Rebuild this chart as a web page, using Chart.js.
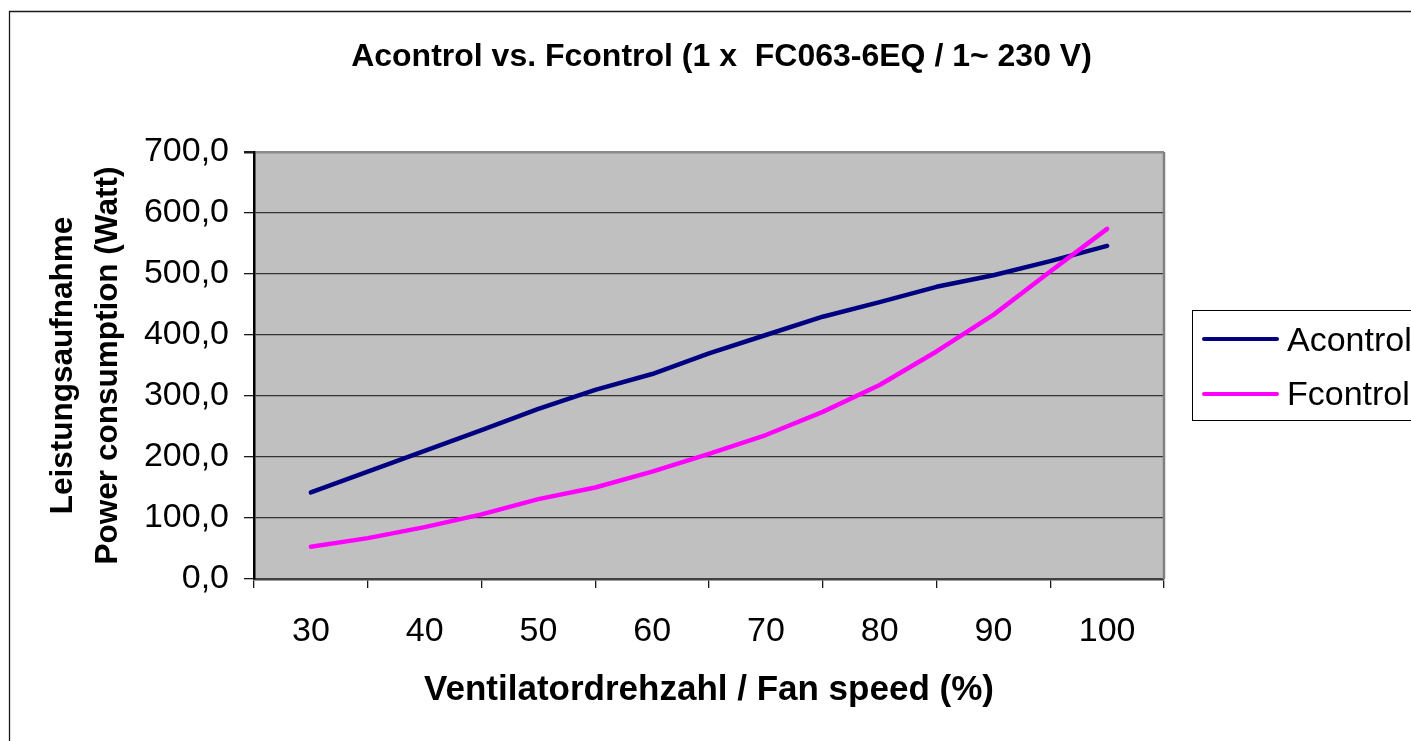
<!DOCTYPE html>
<html><head><meta charset="utf-8">
<script src="https://cdn.jsdelivr.net/npm/chart.js@4/dist/chart.umd.min.js"></script>
<style>html,body{margin:0;padding:0;background:#fff;overflow:hidden}#wrap{width:1411px;height:741px;position:relative}canvas{display:block}</style>
</head><body><div id="wrap"><canvas id="c" width="1411" height="741"></canvas></div>
<script>
// ---- data ----
const fanSpeed = [30, 35, 40, 45, 50, 55, 60, 65, 70, 75, 80, 85, 90, 95, 100];
const acontrol = [142, 176, 210, 244, 279, 310, 336, 370, 400, 430, 454, 479, 498, 521, 546];
const fcontrol = [53, 67, 85, 106, 131, 150, 176, 205, 236, 274, 318, 373, 433, 504, 574];
const seriesNames = ['Acontrol', 'Fcontrol'];
const seriesColors = ['#000080', '#FF00FF'];
const titleText = 'Acontrol vs. Fcontrol (1 x  FC063-6EQ / 1~ 230 V)';
const xTitle = 'Ventilatordrehzahl / Fan speed (%)';
const yTitle = ['Leistungsaufnahme', 'Power consumption (Watt)'];

const FONT = "'Liberation Sans', Arial, sans-serif";

const pagePlugin = {
  id: 'page',
  beforeDraw(chart) {
    const {ctx, chartArea: a} = chart;
    ctx.save();
    ctx.fillStyle = '#fff';
    ctx.fillRect(0, 0, chart.width, chart.height);
    ctx.fillStyle = '#C0C0C0';
    ctx.fillRect(a.left, a.top, a.right - a.left, a.bottom - a.top);
    ctx.strokeStyle = '#1a1a1a';
    ctx.lineWidth = 1.3;
    ctx.beginPath();
    ctx.moveTo(9.5, 745);
    ctx.lineTo(9.5, 11.5);
    ctx.lineTo(1415, 11.5);
    ctx.stroke();
    ctx.restore();
  },
  beforeDatasetsDraw(chart) {
    const {ctx, chartArea: a} = chart;
    ctx.save();
    ctx.strokeStyle = '#808080';
    ctx.lineWidth = 2.5;
    ctx.beginPath();
    ctx.moveTo(a.right, a.top);
    ctx.lineTo(a.right, a.bottom);
    ctx.stroke();
    ctx.restore();
  },
  afterDraw(chart) {
    const {ctx} = chart;
    ctx.save();
    ctx.strokeStyle = '#000';
    ctx.lineWidth = 1;
    ctx.strokeRect(1192.5, 310.5, 400, 110);
    chart.data.datasets.forEach((ds) => {
      const idx = seriesNames.indexOf(ds.label);
      const y = 339 + idx * 55;
      ctx.strokeStyle = ds.borderColor;
      ctx.lineWidth = 4;
      ctx.lineCap = 'round';
      ctx.beginPath();
      ctx.moveTo(1204, y);
      ctx.lineTo(1277, y);
      ctx.stroke();
      ctx.fillStyle = '#000';
      ctx.font = '34px ' + FONT;
      ctx.textBaseline = 'alphabetic';
      ctx.textAlign = 'left';
      ctx.fillText(ds.label, 1287, 351 + idx * 54);
    });
    ctx.restore();
  }
};

const fmt = v => Number(v).toFixed(1).replace('.', ',');

new Chart(document.getElementById('c'), {
  type: 'line',
  data: {
    datasets: [
      {
        label: seriesNames[1],
        data: fanSpeed.map((x, i) => ({x, y: fcontrol[i]})),
        borderColor: seriesColors[1], backgroundColor: seriesColors[1],
        borderWidth: 4.5, pointRadius: 0, tension: 0, fill: false,
        borderCapStyle: 'round', borderJoinStyle: 'round', order: 0
      },
      {
        label: seriesNames[0],
        data: fanSpeed.map((x, i) => ({x, y: acontrol[i]})),
        borderColor: seriesColors[0], backgroundColor: seriesColors[0],
        borderWidth: 4.5, pointRadius: 0, tension: 0, fill: false,
        borderCapStyle: 'round', borderJoinStyle: 'round', order: 1
      }
    ]
  },
  options: {
    responsive: false,
    animation: false,
    devicePixelRatio: 1,
    events: [],
    layout: {padding: {left: 32, right: 0, top: 0, bottom: 0}},
    plugins: {
      legend: {display: false},
      tooltip: {enabled: false},
      title: {
        display: true, text: titleText, color: '#000',
        font: {family: FONT, size: 32, weight: 'bold', lineHeight: 1.2},
        padding: {top: 38, bottom: 75.6}
      }
    },
    scales: {
      x: {
        type: 'linear', position: 'bottom', min: 25, max: 105,
        afterFit(s) { s.height = 162; },
        grid: {
          display: true, drawOnChartArea: false, drawTicks: true, tickLength: 9,
          color: c => (c.tick && c.tick.value % 10 === 5) ? '#1a1a1a' : 'rgba(0,0,0,0)',
          lineWidth: 1.3
        },
        border: {display: true, color: '#404040', width: 2.5},
        ticks: {
          stepSize: 5, autoSkip: false, maxRotation: 0, padding: 23, color: '#000',
          font: {family: FONT, size: 34},
          callback: v => (v % 10 === 0 ? String(v) : '')
        },
        title: {
          display: true, text: xTitle, color: '#000',
          font: {family: FONT, size: 35, weight: 'bold', lineHeight: 1.2},
          padding: {top: 0, bottom: 30}
        }
      },
      y: {
        type: 'linear', position: 'left', min: 0, max: 700,
        afterFit(s) { s.width = 222; },
        grid: {
          color: c => (c.tick && c.tick.value === 700) ? '#8a8a8a' : '#333',
          lineWidth: c => (c.tick && c.tick.value === 700) ? 2.5 : 1.3,
          tickLength: 10, tickColor: '#1a1a1a'
        },
        border: {display: true, color: '#000', width: 2.5},
        ticks: {
          stepSize: 100, padding: 15, color: '#000',
          font: {family: FONT, size: 34},
          callback: v => fmt(v)
        },
        title: {
          display: true, text: yTitle, color: '#000',
          font: {family: FONT, size: 31.5, weight: 'bold', lineHeight: 1.43},
          padding: {top: 9, bottom: 0}
        }
      },
      y2: {
        type: 'linear', position: 'right', display: true,
        afterFit(s) { s.width = 247; },
        grid: {display: false},
        ticks: {display: false},
        border: {display: false},
        title: {display: false}
      }
    }
  },
  plugins: [pagePlugin]
});
</script>
</body></html>
